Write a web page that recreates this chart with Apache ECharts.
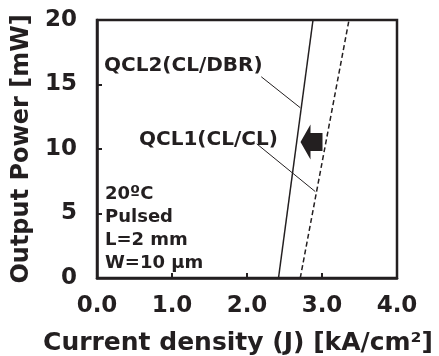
<!DOCTYPE html>
<html>
<head>
<meta charset="utf-8">
<script src="https://cdn.jsdelivr.net/npm/echarts@6/dist/echarts.min.js"></script>
<style>
  html, body { margin: 0; padding: 0; background: #fff; }
  #chart { width: 439px; height: 356px; }
</style>
</head>
<body>
<div id="chart"></div>
<script>
// L-J curves
const qcl2J = [2.42, 2.88];
const qcl2P = [0, 20];
const qcl1J = [2.71, 3.36];
const qcl1P = [0, 20];

// leader lines from labels to curves [J, P]
const leader2 = [[2.19, 15.6], [2.71, 13.2]];
const leader1 = [[2.13, 10.4], [2.91, 6.7]];
const arrowAt = [2.86, 10.55];

const xTicks = ['0.0', '1.0', '2.0', '3.0', '4.0'];
const yTicks = ['0', '5', '10', '15', '20'];
const conditions = ['20ºC', 'Pulsed', 'L=2 mm', 'W=10 μm'];

const ink = '#231f20';
const font = 'DejaVu Sans';

const chart = echarts.init(document.getElementById('chart'));

const option = {
  animation: false,
  grid: {
    left: 97, right: 42, top: 20, bottom: 78,
    containLabel: false, outerBoundsMode: 'none',
    show: true, borderColor: ink, borderWidth: 2.5
  },
  xAxis: {
    type: 'value', min: 0, max: 4, interval: 1,
    name: 'Current density (J) [kA/cm²]',
    nameLocation: 'middle', nameGap: 53,
    nameTextStyle: {
      fontFamily: font, fontWeight: 'bold', fontSize: 25, color: ink,
      padding: [0, 18, 0, 0]
    },
    axisLine: { lineStyle: { color: ink, width: 2.5 } },
    axisTick: { inside: true, length: 5, lineStyle: { color: ink, width: 2 } },
    axisLabel: {
      margin: 17, fontFamily: font, fontWeight: 'bold', fontSize: 23, color: ink,
      formatter: v => xTicks[Math.round(v)]
    },
    splitLine: { show: false }
  },
  yAxis: {
    type: 'value', min: 0, max: 20, interval: 5,
    name: 'Output Power [mW]',
    nameLocation: 'middle', nameGap: 56,
    nameTextStyle: { fontFamily: font, fontWeight: 'bold', fontSize: 24, color: ink },
    axisLine: { lineStyle: { color: ink, width: 2.5 } },
    axisTick: { inside: true, length: 5, lineStyle: { color: ink, width: 2 } },
    axisLabel: {
      margin: 20, fontFamily: font, fontWeight: 'bold', fontSize: 23, color: ink,
      formatter: v => yTicks[Math.round(v / 5)]
    },
    splitLine: { show: false }
  },
  series: [
    {
      type: 'line', name: 'QCL2(CL/DBR)', symbol: 'none',
      data: qcl2J.map((j, i) => [j, qcl2P[i]]),
      lineStyle: { color: ink, width: 1.5 },
      markPoint: {
        symbol: 'path://M0,17.5 L10,0 L10,8.5 L22,8.5 L22,26.5 L10,26.5 L10,35 Z',
        symbolSize: [22, 35],
        itemStyle: { color: ink },
        label: { show: false },
        data: [{ coord: arrowAt }]
      }
    },
    {
      type: 'line', name: 'QCL1(CL/CL)', symbol: 'none',
      data: qcl1J.map((j, i) => [j, qcl1P[i]]),
      lineStyle: { color: ink, width: 1.5, type: [5, 3] }
    },
    {
      type: 'line', symbol: 'none', data: leader2,
      lineStyle: { color: ink, width: 1 }
    },
    {
      type: 'line', symbol: 'none', data: leader1,
      lineStyle: { color: ink, width: 1 }
    }
  ],
  graphic: [
    {
      type: 'text', left: 104, top: 56,
      style: { text: 'QCL2(CL/DBR)', fontFamily: font, fontWeight: 'bold', fontSize: 20, fill: ink }
    },
    {
      type: 'text', left: 139, top: 130,
      style: { text: 'QCL1(CL/CL)', fontFamily: font, fontWeight: 'bold', fontSize: 20, fill: ink }
    },
    {
      type: 'text', left: 105, top: 183,
      style: {
        text: conditions.join('\n'), fontFamily: font, fontWeight: 'bold',
        fontSize: 18, lineHeight: 23, fill: ink
      }
    }
  ]
};

chart.setOption(option);
</script>
</body>
</html>
